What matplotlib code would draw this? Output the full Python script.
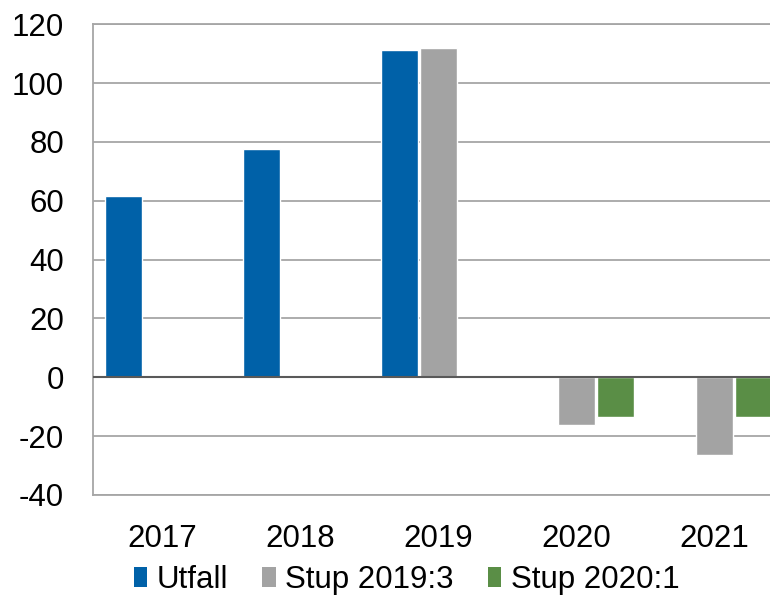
import numpy as np
import matplotlib.pyplot as plt
from matplotlib.patches import Patch

plt.rcParams['font.family'] = ['Liberation Sans', 'DejaVu Sans']
plt.rcParams['axes.unicode_minus'] = False

years = ['2017', '2018', '2019', '2020', '2021']
utfall = [61.6, 77.7, 111.4, np.nan, np.nan]
stup_2019_3 = [np.nan, np.nan, 112.0, -16.2, -26.3]
stup_2020_1 = [np.nan, np.nan, np.nan, -13.6, -13.6]

series = [
    ('Utfall', utfall, '#0061A8'),
    ('Stup 2019:3', stup_2019_3, '#A3A3A3'),
    ('Stup 2020:1', stup_2020_1, '#5A8E46'),
]

fig = plt.figure(figsize=(7.7, 5.96), dpi=100)
ax = fig.add_axes([0.1212, 0.1695, 0.896, 0.7897])

x = np.arange(len(years))
width = 0.265
offset = 0.283
for i, (name, vals, col) in enumerate(series):
    ax.bar(x + (i - 1) * offset, vals, width, color=col,
           edgecolor='white', linewidth=1.0, zorder=3)

ax.set_xlim(-0.5, 4.5)
ax.set_ylim(-40, 120)
ax.set_yticks(np.arange(-40, 121, 20))
ax.set_xticks(x)
ax.set_xticklabels(years)
ax.tick_params(axis='both', length=0, labelsize=22.5)
ax.tick_params(axis='x', pad=21)
ax.tick_params(axis='y', pad=21)

ax.grid(axis='y', color='#A6A6A6', linewidth=1.3, zorder=0)
ax.axhline(0, color='#595959', linewidth=1.5, zorder=4)
for s in ['left', 'top', 'bottom']:
    ax.spines[s].set_color('#A6A6A6')
    ax.spines[s].set_linewidth(1.3)
ax.spines['right'].set_visible(False)

handles = [Patch(facecolor=c, edgecolor='none', label=n) for n, v, c in series]
fig.legend(handles=handles, loc='center', bbox_to_anchor=(0.528, 0.027),
           ncol=3, frameon=False, fontsize=22.5, handlelength=0.43,
           handleheight=0.65, handletextpad=0.3, columnspacing=1.1,
           borderaxespad=0)

fig.savefig('out.png', dpi=100)
